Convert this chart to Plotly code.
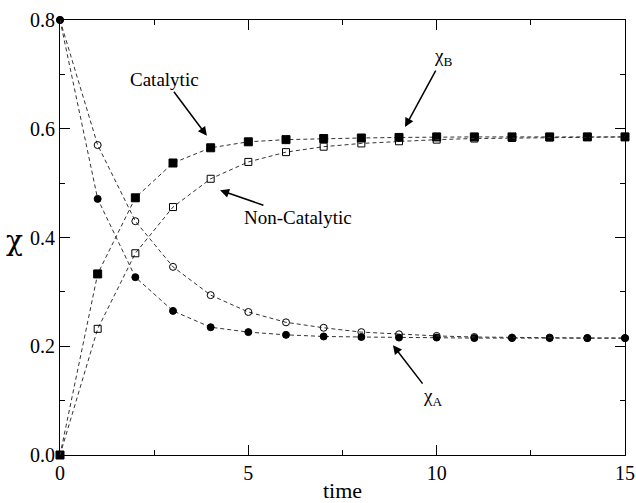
import plotly.graph_objects as go

time = list(range(16))
cat_B = [0.0, 0.333, 0.473, 0.537, 0.565, 0.576, 0.580, 0.582, 0.583, 0.584, 0.585, 0.585, 0.585, 0.585, 0.585, 0.585]
noncat_B = [0.0, 0.232, 0.371, 0.456, 0.508, 0.539, 0.557, 0.567, 0.573, 0.577, 0.580, 0.582, 0.583, 0.584, 0.585, 0.585]
cat_A = [0.8, 0.471, 0.327, 0.265, 0.235, 0.226, 0.221, 0.218, 0.217, 0.216, 0.216, 0.215, 0.215, 0.215, 0.215, 0.215]
noncat_A = [0.8, 0.570, 0.430, 0.346, 0.294, 0.263, 0.244, 0.234, 0.226, 0.222, 0.219, 0.217, 0.216, 0.216, 0.215, 0.215]

series = [
    (cat_B, "square", 8),
    (noncat_B, "square-open", 7),
    (cat_A, "circle", 7),
    (noncat_A, "circle-open", 7),
]

fig = go.Figure()
for vals, sym, size in series:
    fig.add_trace(go.Scatter(
        x=time, y=vals, mode="lines+markers", cliponaxis=False,
        line=dict(color="#333", width=1, dash="4px,3px"),
        marker=dict(symbol=sym, size=size, color="black", line=dict(color="black", width=1)),
        showlegend=False,
    ))

font = "Liberation Serif, Times New Roman, serif"
ann = [
    ("Catalytic", 3.9, 0.587, -42, -56),
    ("Non-Catalytic", 4.25, 0.487, 78, 27),
    ("χ<sub>B</sub>", 9.16, 0.603, 38, -70),
    ("χ<sub>A</sub>", 8.84, 0.202, 40, 52),
]
for text, x, y, ax, ay in ann:
    fig.add_annotation(x=x, y=y, ax=ax, ay=ay, text=text, showarrow=True,
                       arrowhead=2, arrowsize=1.2, arrowwidth=1.5, arrowcolor="black",
                       font=dict(family=font, size=19, color="black"))

# upright y-axis label
fig.add_annotation(xref="paper", yref="paper", x=-0.08, y=0.494, text="χ", showarrow=False,
                   xanchor="center", yanchor="middle",
                   font=dict(family="DejaVu Serif, serif", size=28, color="black"))

axis_common = dict(
    showline=True, linecolor="black", linewidth=1.2, mirror="ticks",
    ticks="inside", ticklen=10, tickwidth=1, tickcolor="black",
    showgrid=False, zeroline=False, automargin=False,
    tickfont=dict(family=font, size=20, color="black"),
)
fig.update_xaxes(range=[0, 15], tickvals=[0, 5, 10, 15],
                 minor=dict(tickvals=[2.5, 7.5, 12.5], ticks="inside", ticklen=5, tickcolor="black"),
                 title=dict(text="time", font=dict(family=font, size=22, color="black"), standoff=0),
                 **axis_common)
fig.update_yaxes(range=[0, 0.8], tickvals=[0, 0.2, 0.4, 0.6, 0.8], tickformat=".1f",
                 minor=dict(tickvals=[0.1, 0.3, 0.5, 0.7], ticks="inside", ticklen=5, tickcolor="black"),
                 **axis_common)
fig.update_layout(width=636, height=503, margin=dict(l=60, r=11, t=20, b=48, autoexpand=False),
                  plot_bgcolor="white", paper_bgcolor="white")
fig.write_html("out.html", config={"displayModeBar": False},
               post_script="document.body.style.margin='0px';")
